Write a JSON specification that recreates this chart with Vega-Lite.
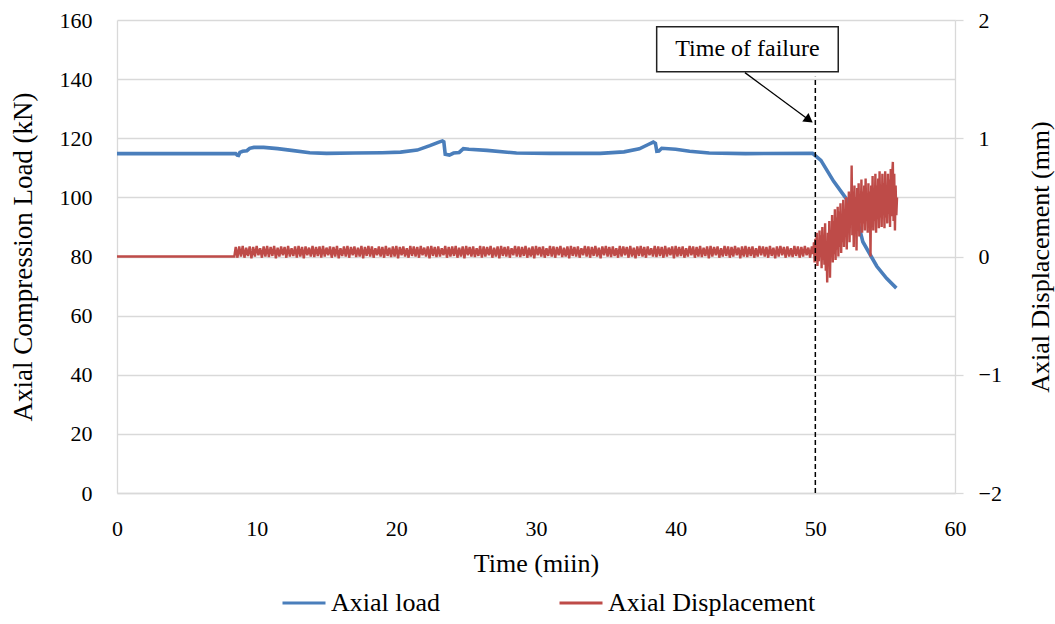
{
"$schema":"https://vega.github.io/schema/vega-lite/v6.json",
"width":838,"height":473,
"autosize":{"type":"none"},
"padding":{"left":117,"top":20,"right":100,"bottom":131},
"background":"white",
"config":{"font":"Liberation Serif","view":{"stroke":null},
 "axis":{"labelFont":"Liberation Serif","titleFont":"Liberation Serif","labelColor":"#000","titleColor":"#000","titleFontWeight":"normal","labelFontSize":22,"titleFontSize":26,"labelOverlap":false},
 "legend":{"labelFont":"Liberation Serif","labelColor":"#000"}},
"datasets":{
"load":[{"t":0,"v":114.8},{"t":8.5,"v":114.8},{"t":8.6,"v":114.3},{"t":8.7,"v":114.2},{"t":8.8,"v":115.2},{"t":9.0,"v":115.6},{"t":9.3,"v":115.8},{"t":9.5,"v":116.6},{"t":9.8,"v":116.9},{"t":10.5,"v":116.9},{"t":11.5,"v":116.5},{"t":12.5,"v":115.9},{"t":13.8,"v":115.1},{"t":15,"v":114.9},{"t":17,"v":115.0},{"t":19,"v":115.1},{"t":20.3,"v":115.3},{"t":21.5,"v":116.0},{"t":22.4,"v":117.5},{"t":23.0,"v":118.6},{"t":23.3,"v":119.1},{"t":23.4,"v":118.8},{"t":23.5,"v":114.6},{"t":23.8,"v":114.3},{"t":24.1,"v":115.0},{"t":24.5,"v":115.2},{"t":24.8,"v":116.5},{"t":25.2,"v":116.3},{"t":26.5,"v":115.9},{"t":28.6,"v":115.0},{"t":31,"v":114.9},{"t":34.6,"v":114.9},{"t":36.3,"v":115.4},{"t":37.4,"v":116.4},{"t":38.0,"v":117.8},{"t":38.4,"v":118.7},{"t":38.55,"v":118.3},{"t":38.65,"v":115.6},{"t":38.8,"v":115.7},{"t":39.0,"v":116.6},{"t":40,"v":116.3},{"t":41,"v":115.6},{"t":42.4,"v":115.0},{"t":45,"v":114.8},{"t":49.8,"v":114.9},{"t":50.4,"v":112.5},{"t":51.3,"v":105.5},{"t":52.3,"v":99},{"t":52.95,"v":93.5},{"t":53.4,"v":85},{"t":54.0,"v":80},{"t":54.4,"v":76.7},{"t":55.1,"v":72.6},{"t":55.8,"v":69.3}],
"disp":[{"t":0,"d":0},{"t":8.4,"d":0},
{"t":8.5,"d":0.08},{"t":8.625,"d":-0.01},{"t":8.75,"d":0.085},{"t":8.875,"d":0.0},
{"t":9,"d":0.09},{"t":9.125,"d":-0.01},{"t":9.25,"d":0.075},{"t":9.375,"d":0.005},{"t":9.5,"d":0.085},{"t":9.625,"d":-0.015},{"t":9.75,"d":0.08},{"t":9.875,"d":0.0},
{"t":10,"d":0.09},{"t":10.125,"d":0.01},{"t":10.25,"d":0.07},{"t":10.375,"d":-0.01},{"t":10.5,"d":0.085},{"t":10.625,"d":0.0},{"t":10.75,"d":0.09},{"t":10.875,"d":-0.005},
{"t":11,"d":0.08},{"t":11.125,"d":0.005},{"t":11.25,"d":0.09},{"t":11.375,"d":-0.015},{"t":11.5,"d":0.075},{"t":11.625,"d":0.0},{"t":11.75,"d":0.085},{"t":11.875,"d":0.01},
{"t":12,"d":0.08},{"t":12.125,"d":-0.01},{"t":12.25,"d":0.09},{"t":12.375,"d":0.0},{"t":12.5,"d":0.07},{"t":12.625,"d":0.005},{"t":12.75,"d":0.085},{"t":12.875,"d":-0.01},
{"t":13,"d":0.09},{"t":13.125,"d":0.0},{"t":13.25,"d":0.08},{"t":13.375,"d":-0.015},{"t":13.5,"d":0.085},{"t":13.625,"d":0.01},{"t":13.75,"d":0.075},{"t":13.875,"d":0.0},
{"t":14,"d":0.09},{"t":14.125,"d":-0.005},{"t":14.25,"d":0.08},{"t":14.375,"d":0.005},{"t":14.5,"d":0.085},{"t":14.625,"d":-0.01},{"t":14.75,"d":0.09},{"t":14.875,"d":0.0},
{"t":15,"d":0.075},{"t":15.125,"d":0.01},{"t":15.25,"d":0.085},{"t":15.375,"d":-0.01},{"t":15.5,"d":0.08},{"t":15.625,"d":0.0},{"t":15.75,"d":0.09},{"t":15.875,"d":-0.015},
{"t":16,"d":0.07},{"t":16.125,"d":0.005},{"t":16.25,"d":0.085},{"t":16.375,"d":0.0},{"t":16.5,"d":0.09},{"t":16.625,"d":-0.01},{"t":16.75,"d":0.08},{"t":16.875,"d":0.01},
{"t":17,"d":0.085},{"t":17.125,"d":-0.005},{"t":17.25,"d":0.075},{"t":17.375,"d":0.0},{"t":17.5,"d":0.09},{"t":17.625,"d":-0.015},{"t":17.75,"d":0.08},{"t":17.875,"d":0.005},
{"t":18,"d":0.09},{"t":18.125,"d":0.0},{"t":18.25,"d":0.085},{"t":18.375,"d":-0.01},{"t":18.5,"d":0.07},{"t":18.625,"d":0.01},{"t":18.75,"d":0.085},{"t":18.875,"d":0.0},
{"t":19,"d":0.08},{"t":19.125,"d":-0.01},{"t":19.25,"d":0.09},{"t":19.375,"d":0.005},{"t":19.5,"d":0.075},{"t":19.625,"d":-0.005},{"t":19.75,"d":0.085},{"t":19.875,"d":0.0},
{"t":20,"d":0.09},{"t":20.125,"d":-0.015},{"t":20.25,"d":0.08},{"t":20.375,"d":0.01},{"t":20.5,"d":0.085},{"t":20.625,"d":0.0},{"t":20.75,"d":0.07},{"t":20.875,"d":-0.01},
{"t":21,"d":0.09},{"t":21.125,"d":0.005},{"t":21.25,"d":0.085},{"t":21.375,"d":0.0},{"t":21.5,"d":0.08},{"t":21.625,"d":-0.01},{"t":21.75,"d":0.09},{"t":21.875,"d":0.01},
{"t":22,"d":0.075},{"t":22.125,"d":0.0},{"t":22.25,"d":0.085},{"t":22.375,"d":-0.015},{"t":22.5,"d":0.09},{"t":22.625,"d":0.005},{"t":22.75,"d":0.08},{"t":22.875,"d":-0.005},
{"t":23,"d":0.085},{"t":23.125,"d":0.0},{"t":23.25,"d":0.07},{"t":23.375,"d":0.01},{"t":23.5,"d":0.09},{"t":23.625,"d":-0.01},{"t":23.75,"d":0.08},{"t":23.875,"d":0.0},
{"t":24,"d":0.085},{"t":24.125,"d":0.005},{"t":24.25,"d":0.09},{"t":24.375,"d":-0.01},{"t":24.5,"d":0.075},{"t":24.625,"d":0.0},{"t":24.75,"d":0.085},{"t":24.875,"d":-0.015},
{"t":25,"d":0.09},{"t":25.125,"d":0.01},{"t":25.25,"d":0.08},{"t":25.375,"d":0.0},{"t":25.5,"d":0.085},{"t":25.625,"d":-0.005},{"t":25.75,"d":0.07},{"t":25.875,"d":0.005},
{"t":26,"d":0.09},{"t":26.125,"d":-0.01},{"t":26.25,"d":0.085},{"t":26.375,"d":0.0},{"t":26.5,"d":0.08},{"t":26.625,"d":0.01},{"t":26.75,"d":0.09},{"t":26.875,"d":-0.01},
{"t":27,"d":0.075},{"t":27.125,"d":0.0},{"t":27.25,"d":0.085},{"t":27.375,"d":-0.015},{"t":27.5,"d":0.09},{"t":27.625,"d":0.005},{"t":27.75,"d":0.08},{"t":27.875,"d":0.0},
{"t":28,"d":0.085},{"t":28.125,"d":-0.01},{"t":28.25,"d":0.07},{"t":28.375,"d":0.01},{"t":28.5,"d":0.09},{"t":28.625,"d":0.0},{"t":28.75,"d":0.085},{"t":28.875,"d":-0.005},
{"t":29,"d":0.08},{"t":29.125,"d":0.005},{"t":29.25,"d":0.09},{"t":29.375,"d":-0.01},{"t":29.5,"d":0.075},{"t":29.625,"d":0.0},{"t":29.75,"d":0.085},{"t":29.875,"d":-0.015},
{"t":30,"d":0.09},{"t":30.125,"d":0.01},{"t":30.25,"d":0.08},{"t":30.375,"d":0.0},{"t":30.5,"d":0.085},{"t":30.625,"d":-0.01},{"t":30.75,"d":0.07},{"t":30.875,"d":0.005},
{"t":31,"d":0.09},{"t":31.125,"d":0.0},{"t":31.25,"d":0.085},{"t":31.375,"d":-0.01},{"t":31.5,"d":0.08},{"t":31.625,"d":0.01},{"t":31.75,"d":0.09},{"t":31.875,"d":-0.005},
{"t":32,"d":0.075},{"t":32.125,"d":0.0},{"t":32.25,"d":0.085},{"t":32.375,"d":-0.015},{"t":32.5,"d":0.09},{"t":32.625,"d":0.005},{"t":32.75,"d":0.08},{"t":32.875,"d":0.0},
{"t":33,"d":0.085},{"t":33.125,"d":-0.01},{"t":33.25,"d":0.07},{"t":33.375,"d":0.01},{"t":33.5,"d":0.09},{"t":33.625,"d":0.0},{"t":33.75,"d":0.085},{"t":33.875,"d":-0.01},
{"t":34,"d":0.08},{"t":34.125,"d":0.005},{"t":34.25,"d":0.09},{"t":34.375,"d":0.0},{"t":34.5,"d":0.075},{"t":34.625,"d":-0.015},{"t":34.75,"d":0.085},{"t":34.875,"d":0.01},
{"t":35,"d":0.09},{"t":35.125,"d":0.0},{"t":35.25,"d":0.08},{"t":35.375,"d":-0.005},{"t":35.5,"d":0.085},{"t":35.625,"d":0.005},{"t":35.75,"d":0.07},{"t":35.875,"d":-0.01},
{"t":36,"d":0.09},{"t":36.125,"d":0.0},{"t":36.25,"d":0.085},{"t":36.375,"d":0.01},{"t":36.5,"d":0.08},{"t":36.625,"d":-0.01},{"t":36.75,"d":0.09},{"t":36.875,"d":0.0},
{"t":37,"d":0.075},{"t":37.125,"d":-0.015},{"t":37.25,"d":0.085},{"t":37.375,"d":0.005},{"t":37.5,"d":0.09},{"t":37.625,"d":0.0},{"t":37.75,"d":0.08},{"t":37.875,"d":-0.01},
{"t":38,"d":0.085},{"t":38.125,"d":0.01},{"t":38.25,"d":0.07},{"t":38.375,"d":0.0},{"t":38.5,"d":0.09},{"t":38.625,"d":-0.005},{"t":38.75,"d":0.085},{"t":38.875,"d":0.005},
{"t":39,"d":0.08},{"t":39.125,"d":-0.01},{"t":39.25,"d":0.09},{"t":39.375,"d":0.0},{"t":39.5,"d":0.075},{"t":39.625,"d":0.01},{"t":39.75,"d":0.085},{"t":39.875,"d":-0.015},
{"t":40,"d":0.09},{"t":40.125,"d":0.0},{"t":40.25,"d":0.08},{"t":40.375,"d":0.005},{"t":40.5,"d":0.085},{"t":40.625,"d":-0.01},{"t":40.75,"d":0.07},{"t":40.875,"d":0.0},
{"t":41,"d":0.09},{"t":41.125,"d":0.01},{"t":41.25,"d":0.085},{"t":41.375,"d":-0.01},{"t":41.5,"d":0.08},{"t":41.625,"d":0.0},{"t":41.75,"d":0.09},{"t":41.875,"d":-0.005},
{"t":42,"d":0.075},{"t":42.125,"d":0.005},{"t":42.25,"d":0.085},{"t":42.375,"d":-0.015},{"t":42.5,"d":0.09},{"t":42.625,"d":0.0},{"t":42.75,"d":0.08},{"t":42.875,"d":0.01},
{"t":43,"d":0.085},{"t":43.125,"d":-0.01},{"t":43.25,"d":0.07},{"t":43.375,"d":0.0},{"t":43.5,"d":0.09},{"t":43.625,"d":0.005},{"t":43.75,"d":0.085},{"t":43.875,"d":-0.01},
{"t":44,"d":0.08},{"t":44.125,"d":0.0},{"t":44.25,"d":0.09},{"t":44.375,"d":0.01},{"t":44.5,"d":0.075},{"t":44.625,"d":-0.015},{"t":44.75,"d":0.085},{"t":44.875,"d":0.0},
{"t":45,"d":0.09},{"t":45.125,"d":-0.005},{"t":45.25,"d":0.08},{"t":45.375,"d":0.005},{"t":45.5,"d":0.085},{"t":45.625,"d":-0.01},{"t":45.75,"d":0.07},{"t":45.875,"d":0.0},
{"t":46,"d":0.09},{"t":46.125,"d":0.01},{"t":46.25,"d":0.085},{"t":46.375,"d":0.0},{"t":46.5,"d":0.08},{"t":46.625,"d":-0.01},{"t":46.75,"d":0.09},{"t":46.875,"d":0.005},
{"t":47,"d":0.075},{"t":47.125,"d":-0.015},{"t":47.25,"d":0.085},{"t":47.375,"d":0.0},{"t":47.5,"d":0.09},{"t":47.625,"d":0.01},{"t":47.75,"d":0.08},{"t":47.875,"d":-0.01},
{"t":48,"d":0.085},{"t":48.125,"d":0.0},{"t":48.25,"d":0.07},{"t":48.375,"d":-0.005},{"t":48.5,"d":0.09},{"t":48.625,"d":0.005},{"t":48.75,"d":0.085},{"t":48.875,"d":-0.01},
{"t":49,"d":0.08},{"t":49.125,"d":0.0},{"t":49.25,"d":0.09},{"t":49.375,"d":0.01},{"t":49.5,"d":0.075},{"t":49.625,"d":-0.01},{"t":49.75,"d":0.085},
{"t":49.85,"d":0.02},{"t":49.9,"d":0.12},{"t":49.95,"d":-0.05},{"t":50.0,"d":0.15},{"t":50.05,"d":-0.02},{"t":50.1,"d":0.2},{"t":50.15,"d":-0.08},{"t":50.2,"d":0.1},{"t":50.25,"d":-0.04},{"t":50.3,"d":0.22},{"t":50.35,"d":0.0},{"t":50.4,"d":0.18},{"t":50.45,"d":-0.1},{"t":50.5,"d":0.25},{"t":50.55,"d":-0.03},{"t":50.6,"d":0.14},{"t":50.65,"d":-0.07},{"t":50.7,"d":0.28},{"t":50.75,"d":-0.12},{"t":50.8,"d":0.1},{"t":50.85,"d":-0.22},{"t":50.9,"d":0.2},{"t":50.95,"d":-0.05},{"t":51.0,"d":0.3},{"t":51.05,"d":-0.18},{"t":51.1,"d":0.22},{"t":51.15,"d":0.0},{"t":51.2,"d":0.35},{"t":51.25,"d":-0.05},{"t":51.3,"d":0.3},{"t":51.35,"d":0.02},{"t":51.4,"d":0.4},{"t":51.45,"d":-0.03},{"t":51.5,"d":0.33},{"t":51.55,"d":0.06},{"t":51.6,"d":0.42},{"t":51.65,"d":0.0},{"t":51.7,"d":0.38},{"t":51.75,"d":0.08},{"t":51.8,"d":0.45},{"t":51.85,"d":0.03},{"t":51.9,"d":0.35},{"t":51.95,"d":0.12},{"t":52.0,"d":0.48},{"t":52.05,"d":0.08},{"t":52.1,"d":0.4},{"t":52.15,"d":0.18},{"t":52.2,"d":0.5},{"t":52.25,"d":0.06},{"t":52.3,"d":0.45},{"t":52.35,"d":0.22},{"t":52.4,"d":0.55},{"t":52.45,"d":0.12},{"t":52.5,"d":0.5},{"t":52.55,"d":0.28},{"t":52.6,"d":0.77},{"t":52.65,"d":0.18},{"t":52.7,"d":0.55},{"t":52.75,"d":0.08},{"t":52.8,"d":0.6},{"t":52.85,"d":0.28},{"t":52.9,"d":0.5},{"t":52.95,"d":0.05},{"t":53.0,"d":0.58},{"t":53.05,"d":0.22},{"t":53.1,"d":0.62},{"t":53.15,"d":0.17},{"t":53.2,"d":0.5},{"t":53.25,"d":0.3},{"t":53.3,"d":0.65},{"t":53.35,"d":0.2},{"t":53.4,"d":0.55},{"t":53.45,"d":0.28},{"t":53.5,"d":0.6},{"t":53.55,"d":0.22},{"t":53.6,"d":0.66},{"t":53.65,"d":0.3},{"t":53.7,"d":0.52},{"t":53.75,"d":0.2},{"t":53.8,"d":0.62},{"t":53.85,"d":0.26},{"t":53.9,"d":0.55},{"t":53.95,"d":0.0},{"t":54.0,"d":0.6},{"t":54.05,"d":0.25},{"t":54.1,"d":0.68},{"t":54.15,"d":0.22},{"t":54.2,"d":0.56},{"t":54.25,"d":0.3},{"t":54.3,"d":0.7},{"t":54.35,"d":0.2},{"t":54.4,"d":0.6},{"t":54.45,"d":0.32},{"t":54.5,"d":0.66},{"t":54.55,"d":0.24},{"t":54.6,"d":0.72},{"t":54.65,"d":0.33},{"t":54.7,"d":0.58},{"t":54.75,"d":0.25},{"t":54.8,"d":0.7},{"t":54.85,"d":0.35},{"t":54.9,"d":0.62},{"t":54.95,"d":0.24},{"t":55.0,"d":0.72},{"t":55.05,"d":0.33},{"t":55.1,"d":0.6},{"t":55.15,"d":0.28},{"t":55.2,"d":0.7},{"t":55.25,"d":0.36},{"t":55.3,"d":0.65},{"t":55.35,"d":0.25},{"t":55.4,"d":0.74},{"t":55.45,"d":0.34},{"t":55.5,"d":0.68},{"t":55.55,"d":0.8},{"t":55.6,"d":0.3},{"t":55.65,"d":0.7},{"t":55.7,"d":0.22},{"t":55.75,"d":0.6},{"t":55.8,"d":0.35},{"t":55.85,"d":0.5}],
"failline":[{"t":50,"v":0,"v2":140.8}],
"box":[{"t":38.64,"t2":51.64,"v":142.5,"v2":157.7,"label":"Time of failure","tc":45.14,"vc":150.1}],
"arrow":[{"t":44.96,"v":142.2,"t2":49.55,"v2":126.2}]
},
"encoding":{"x":{"field":"t","type":"quantitative","scale":{"domain":[0,60],"nice":false,"zero":false},
 "axis":{"title":"Time (miin)","values":[0,10,20,30,40,50,60],"grid":false,"ticks":false,"tickSize":0,"domainColor":"#d9d9d9","domainWidth":1.3,"labelPadding":25,"titlePadding":11,"labelFlush":false}}},
"layer":[
 {"data":{"name":"load"},"mark":{"type":"line","strokeWidth":3.6,"interpolate":"linear"},
  "encoding":{"y":{"field":"v","type":"quantitative","scale":{"domain":[0,160],"nice":false},
   "axis":{"title":"Axial Compression Load (kN)","orient":"left","values":[0,20,40,60,80,100,120,140,160],"grid":true,"gridColor":"#d9d9d9","gridWidth":1.3,"ticks":false,"tickSize":0,"domainColor":"#d9d9d9","domainWidth":1.3,"labelPadding":25,"titlePadding":22,"titleFontSize":27}},
   "color":{"datum":"Axial load","type":"nominal","scale":{"domain":["Axial load","Axial Displacement"],"range":["#4a7ebb","#be4b48"]},
    "legend":{"orient":"none","legendX":164,"legendY":560,"direction":"horizontal","title":null,"labelFontSize":26,"symbolType":"stroke","symbolSize":1849,"symbolStrokeWidth":3,"labelOffset":4,"columnPadding":112,"labelLimit":400}}}},
 {"data":{"name":"disp"},"mark":{"type":"line","strokeWidth":2.4},
  "encoding":{"y":{"field":"d","type":"quantitative","scale":{"domain":[-2,2],"nice":false,"zero":false},
   "axis":{"title":"Axial Displacement (mm)","orient":"right","values":[-2,-1,0,1,2],"grid":false,"ticks":true,"tickSize":8,"tickColor":"#d9d9d9","tickWidth":1.3,"domainColor":"#d9d9d9","domainWidth":1.3,"labelPadding":15,"titlePadding":26,"titleAngle":-90,"titleBaseline":"top"}},
   "color":{"datum":"Axial Displacement","type":"nominal"}}},
 {"layer":[
  {"data":{"name":"failline"},"mark":{"type":"rule","color":"#000","strokeWidth":1.5,"strokeDash":[5,3]},
   "encoding":{"y":{"field":"v","type":"quantitative","scale":{"domain":[0,160],"nice":false},"axis":null},"y2":{"field":"v2"}}},
  {"data":{"name":"box"},"mark":{"type":"rect","fill":"white","stroke":"#222","strokeWidth":1.5},
   "encoding":{"x2":{"field":"t2"},"y":{"field":"v","type":"quantitative","scale":{"domain":[0,160],"nice":false},"axis":null},"y2":{"field":"v2"}}},
  {"data":{"name":"box"},"mark":{"type":"text","fontSize":24,"font":"Liberation Serif","color":"#000","align":"center","baseline":"middle"},
   "encoding":{"x":{"field":"tc","type":"quantitative"},"y":{"field":"vc","type":"quantitative","scale":{"domain":[0,160],"nice":false},"axis":null},"text":{"field":"label"}}},
  {"data":{"name":"arrow"},"mark":{"type":"rule","color":"#000","strokeWidth":1.3},
   "encoding":{"x2":{"field":"t2"},"y":{"field":"v","type":"quantitative","scale":{"domain":[0,160],"nice":false},"axis":null},"y2":{"field":"v2"}}},
  {"data":{"name":"arrow"},"mark":{"type":"point","shape":"triangle-right","filled":true,"color":"#000","size":110,"angle":36.5,"opacity":1},
   "encoding":{"x":{"field":"t2","type":"quantitative"},"y":{"field":"v2","type":"quantitative","scale":{"domain":[0,160],"nice":false},"axis":null}}}
 ]}
],
"resolve":{"scale":{"y":"independent"}}
}
